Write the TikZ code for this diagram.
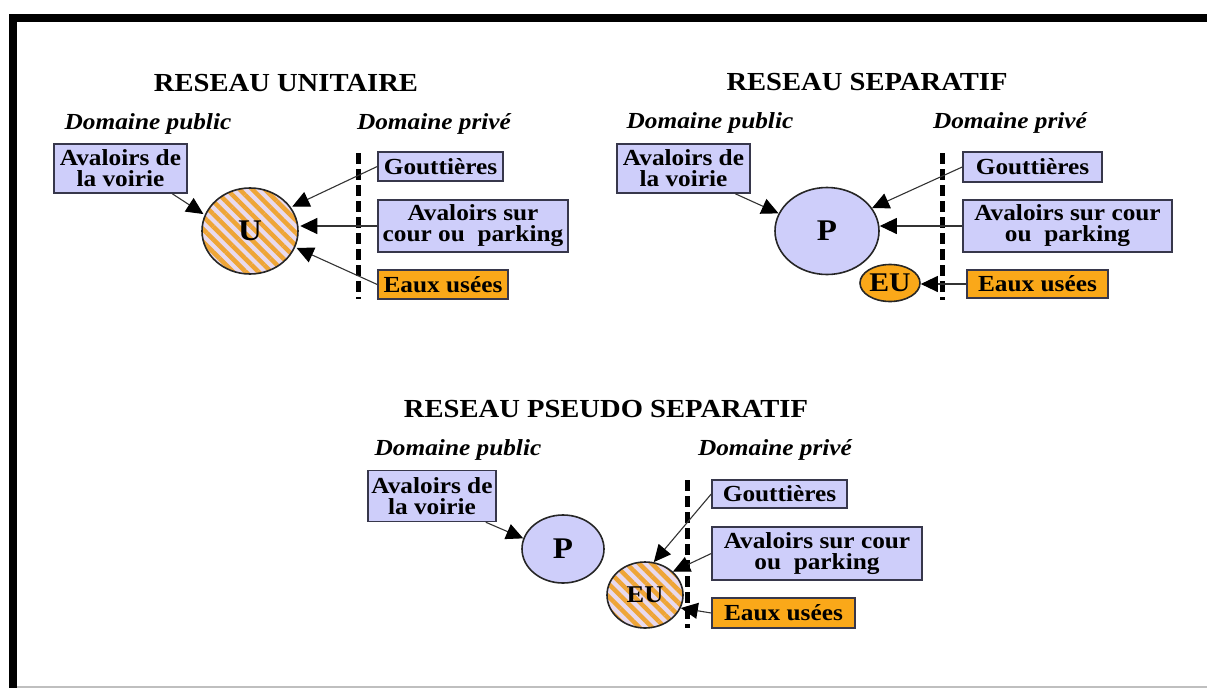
\documentclass[tikz,border=0pt]{standalone}
\usepackage{fontspec}
\setmainfont{Liberation Serif}[FakeStretch=1.1]
\usepackage{tikz}
\usetikzlibrary{shapes.geometric,arrows.meta,patterns.meta,calc}

\definecolor{boxblue}{RGB}{206,206,250}
\definecolor{boxedge}{RGB}{55,55,75}
\definecolor{wasteorange}{RGB}{250,168,25}
\definecolor{stripeorange}{RGB}{238,165,55}
\definecolor{stripelight}{RGB}{232,218,238}

\begin{document}
\begin{tikzpicture}[x=1pt, y=-1pt,
  box/.style={draw=boxedge, line width=1.5pt, fill=boxblue, rectangle, inner sep=0pt, align=center,
    font=\bfseries\fontsize{23}{21}\selectfont},
  wastebox/.style={box, fill=wasteorange},
  pipe/.style={draw=black!85, line width=1.6pt, ellipse, inner sep=0pt,
    font=\bfseries\fontsize{30}{30}\selectfont},
  mixedpipe/.style={pipe, preaction={fill=stripelight},
    pattern={Lines[angle=-45,distance=9pt,line width=4.5pt]}, pattern color=stripeorange},
  heading/.style={font=\bfseries\fontsize{26}{26}\selectfont},
  zonelabel/.style={font=\bfseries\itshape\fontsize{23}{23}\selectfont},
  boundary/.style={line width=5pt, dash pattern=on 11pt off 5pt},
  flow/.style={draw=black!80, line width=1.1pt, -{Triangle[length=17pt,width=16pt,black]}}]
  \useasboundingbox (0,0) rectangle (1207,688);

  % Frame
  \fill (9,14) rectangle (17,688);
  \fill (9,14) rectangle (1207,22);
  \draw[black!25, line width=1.5pt] (17,687) -- (1207,687);

  % Reseau unitaire
  \node[heading] (titleU) at (286,83) {RESEAU UNITAIRE};
  \node[zonelabel] (pubU) at (148,124) {Domaine public};
  \node[zonelabel] (privU) at (434,124) {Domaine privé};
  \node[box, minimum width=133pt, minimum height=49pt] (voirieU) at (120.5,168.5) {Avaloirs de\\la voirie};
  \node[mixedpipe, minimum width=96pt, minimum height=86pt] (U) at (250,231) {U};
  \node[box, minimum width=125pt, minimum height=29pt] (gouttU) at (440.5,166.5) {Gouttières};
  \node[box, minimum width=190pt, minimum height=52pt] (courU) at (473,226) {Avaloirs sur\\cour ou\ \ parking};
  \node[wastebox, minimum width=130pt, minimum height=29pt] (euU) at (443,284.5) {Eaux usées};
  \coordinate (limUtop) at (358,153);
  \coordinate (limUbot) at (358,299);
  \draw[boundary] (limUtop) -- (limUbot);
  \draw[flow] (voirieU.-26) -- (U.160);
  \draw[flow] (gouttU.west) -- (U.30);
  \draw[flow] (courU.west) -- (courU.west -| U.east);
  \draw[flow] (euU.west) -- (U.-20);

  % Reseau separatif
  \node[heading] (titleS) at (867,82) {RESEAU SEPARATIF};
  \node[zonelabel] (pubS) at (710,123) {Domaine public};
  \node[zonelabel] (privS) at (1010,123) {Domaine privé};
  \node[box, minimum width=133pt, minimum height=49pt] (voirieS) at (683.5,168.5) {Avaloirs de\\la voirie};
  \node[pipe, fill=boxblue, minimum width=104pt, minimum height=87pt] (P) at (827,231) {P};
  \node[pipe, fill=wasteorange, minimum width=60pt, minimum height=37pt,
    font=\bfseries\fontsize{27}{27}\selectfont] (EUS) at (890,283) {EU};
  \node[box, minimum width=139pt, minimum height=30pt] (gouttS) at (1032.5,167) {Gouttières};
  \node[box, minimum width=209pt, minimum height=52pt] (courS) at (1067.5,226) {Avaloirs sur cour\\ou\ \ parking};
  \node[wastebox, minimum width=141pt, minimum height=28pt] (euS) at (1037.5,284) {Eaux usées};
  \coordinate (limStop) at (942,153);
  \coordinate (limSbot) at (942,300);
  \draw[boundary] (limStop) -- (limSbot);
  \draw[flow] (voirieS.-26) -- (P.160);
  \draw[flow] (gouttS.west) -- (P.27);
  \draw[flow] (courS.west) -- (courS.west -| P.east);
  \draw[flow] (euS.west) -- (euS.west -| EUS.east);

  % Reseau pseudo separatif
  \node[heading] (titleP) at (606,409) {RESEAU PSEUDO SEPARATIF};
  \node[zonelabel] (pubP) at (458,450) {Domaine public};
  \node[zonelabel] (privP) at (775,450) {Domaine privé};
  \node[box, minimum width=128pt, minimum height=51pt] (voirieP) at (432,496) {Avaloirs de\\la voirie};
  \node[pipe, fill=boxblue, minimum width=82pt, minimum height=68pt] (P3) at (563,549) {P};
  \node[mixedpipe, minimum width=76pt, minimum height=66pt,
    font=\bfseries\fontsize{24}{24}\selectfont] (EU3) at (645,595) {EU};
  \node[box, minimum width=135pt, minimum height=28pt] (gouttP) at (779.5,494) {Gouttières};
  \node[box, minimum width=210pt, minimum height=53pt] (courP) at (817,553.5) {Avaloirs sur cour\\ou\ \ parking};
  \node[wastebox, minimum width=143pt, minimum height=30pt] (euP) at (783.5,613) {Eaux usées};
  \coordinate (limPtop) at (687,480);
  \coordinate (limPbot) at (687,628);
  \draw[boundary] (limPtop) -- (limPbot);
  \draw[flow] (voirieP.-26) -- (P3.165);
  \draw[flow] (gouttP.west) -- (EU3.75);
  \draw[flow] (courP.west) -- (EU3.40);
  \draw[flow] (euP.west) -- (EU3.-20);
\end{tikzpicture}
\end{document}
